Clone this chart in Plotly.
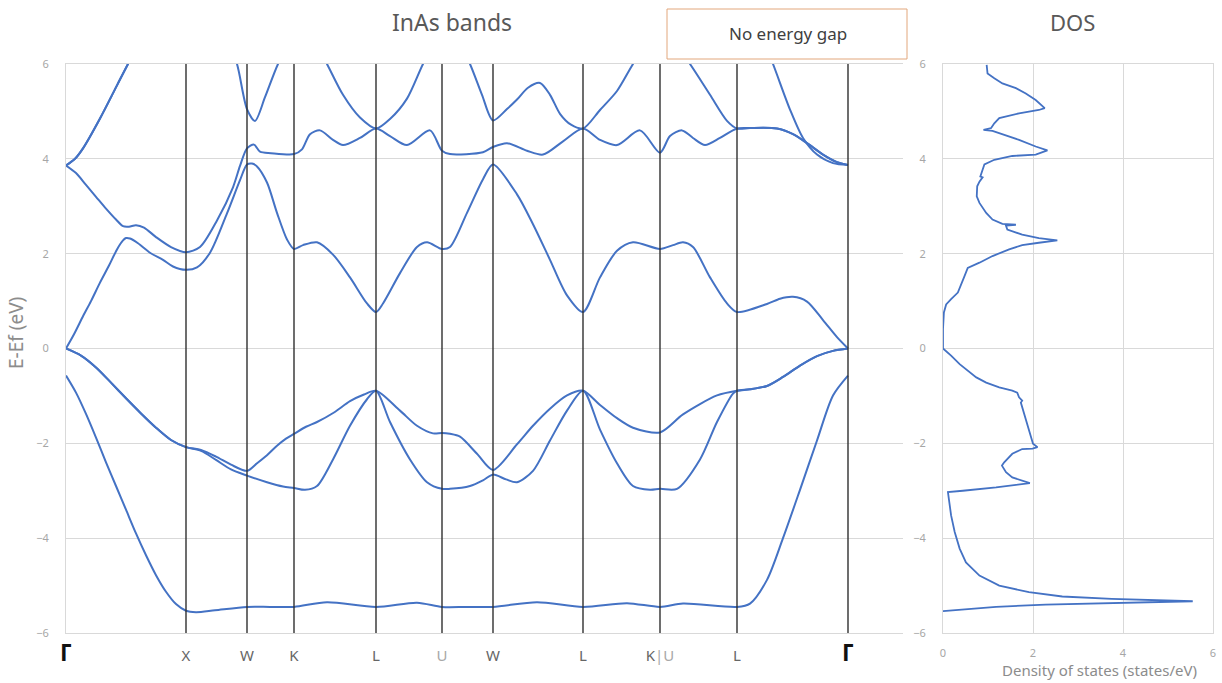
import plotly.graph_objects as go

# ---- high-symmetry path (k-path distance, arbitrary units) ----
sym_k = [0, 120, 181, 228, 310, 376, 427, 517, 594, 671, 782]
sym_labels = ["Γ", "X", "W", "K", "L", "U", "W", "L", "K|U", "L", "Γ"]

energy_ticks = [-6, -4, -2, 0, 2, 4, 6]
dos_ticks = [0, 2, 4, 6]

# ---- band energies E - Ef (eV) along the path ----
band1_k = [0, 10, 20, 30, 40, 50, 60, 70, 80, 90, 100, 110, 120, 130, 149, 181, 204, 228, 261, 310,
           351, 376, 400, 427, 471, 517, 561, 594, 617, 671, 684, 701, 717, 734, 751, 767, 782]
band1_e = [-0.57, -0.93, -1.38, -1.88, -2.4, -2.9, -3.4, -3.9, -4.36, -4.78, -5.13, -5.39, -5.53,
           -5.56, -5.52, -5.45, -5.45, -5.45, -5.35, -5.45, -5.36, -5.45, -5.45, -5.45, -5.35,
           -5.45, -5.37, -5.45, -5.38, -5.45, -5.38, -4.88, -4.0, -2.98, -1.94, -0.99, -0.57]

band2_k = [0, 15, 30, 45, 60, 75, 90, 105, 120, 135, 150, 165, 181, 201, 217, 228, 239, 251, 267,
           284, 301, 310, 324, 344, 361, 376, 384, 404, 417, 427, 440, 451, 467, 484, 501, 517, 534,
           551, 567, 584, 594, 611, 634, 651, 667, 671, 684, 701, 717, 734, 751, 767, 782]
band2_e = [0, -0.15, -0.4, -0.72, -1.05, -1.37, -1.67, -1.93, -2.08, -2.16, -2.35, -2.55, -2.68,
           -2.82, -2.91, -2.94, -2.98, -2.9, -2.34, -1.63, -1.07, -0.89, -1.55, -2.34, -2.82, -2.96,
           -2.96, -2.9, -2.78, -2.66, -2.76, -2.82, -2.58, -1.94, -1.31, -0.89, -1.71, -2.42, -2.9,
           -2.98, -2.96, -2.96, -2.34, -1.55, -0.95, -0.89, -0.86, -0.79, -0.6, -0.36, -0.16, -0.05, 0]

band3_k = [0, 15, 30, 45, 60, 75, 90, 105, 120, 135, 150, 165, 181, 191, 201, 211, 220, 228, 240,
           251, 268, 284, 298, 310, 334, 351, 367, 376, 384, 394, 411, 427, 451, 467, 484, 501, 517,
           534, 551, 567, 594, 617, 651, 671, 684, 701, 717, 734, 751, 767, 782]
band3_e = [0, -0.15, -0.4, -0.72, -1.05, -1.37, -1.67, -1.93, -2.08, -2.14, -2.28, -2.45, -2.58,
           -2.42, -2.25, -2.05, -1.9, -1.8, -1.65, -1.55, -1.35, -1.11, -0.97, -0.89, -1.31, -1.63,
           -1.79, -1.78, -1.8, -1.86, -2.22, -2.56, -2.02, -1.63, -1.27, -0.99, -0.89, -1.19, -1.47,
           -1.67, -1.77, -1.39, -0.99, -0.89, -0.86, -0.79, -0.6, -0.36, -0.16, -0.05, 0]

band4_k = [0, 8, 17, 25, 34, 43, 51, 57, 60, 64, 72, 84, 97, 107, 120, 131, 144, 161, 174, 181,
           186, 191, 201, 211, 221, 228, 237, 251, 267, 284, 301, 310, 317, 334, 351, 361, 376, 384,
           401, 417, 427, 451, 467, 484, 501, 517, 534, 551, 567, 594, 607, 617, 627, 644, 661, 671,
           701, 714, 727, 741, 757, 771, 782]
band4_e = [0, 0.3, 0.68, 1.0, 1.39, 1.75, 2.09, 2.28, 2.33, 2.32, 2.22, 2.02, 1.87, 1.73, 1.66,
           1.71, 2.02, 2.85, 3.55, 3.88, 3.9, 3.84, 3.5, 2.86, 2.3, 2.1, 2.18, 2.24, 1.98, 1.5, 0.95,
           0.77, 0.95, 1.59, 2.14, 2.24, 2.1, 2.14, 2.86, 3.57, 3.88, 3.25, 2.62, 1.87, 1.12, 0.77,
           1.5, 2.06, 2.24, 2.1, 2.18, 2.24, 2.14, 1.5, 0.95, 0.77, 0.94, 1.05, 1.09, 0.99, 0.6,
           0.24, 0]

band5_k = [0, 10, 20, 30, 40, 50, 57, 63, 70, 78, 90, 105, 120, 134, 151, 167, 174, 181, 188,
           194, 205, 228, 236, 244, 254, 267, 277, 294, 310, 324, 341, 364, 376, 384, 417, 427, 441,
           461, 477, 497, 517, 534, 551, 574, 594, 604, 616, 627, 639, 654, 671, 684, 711, 727, 741,
           757, 771, 782]
band5_e = [3.86, 3.7, 3.45, 3.2, 2.95, 2.72, 2.58, 2.57, 2.6, 2.55, 2.35, 2.14, 2.03, 2.14,
           2.7, 3.4, 3.85, 4.22, 4.3, 4.15, 4.12, 4.1, 4.2, 4.52, 4.6, 4.4, 4.29, 4.44, 4.64, 4.48,
           4.29, 4.6, 4.17, 4.1, 4.14, 4.25, 4.33, 4.17, 4.09, 4.37, 4.64, 4.4, 4.29, 4.6, 4.13, 4.48,
           4.6, 4.44, 4.29, 4.44, 4.64, 4.65, 4.64, 4.52, 4.33, 4.09, 3.93, 3.87]

band6_k = [0, 9, 17, 34, 51, 62, 80, 100, 120, 140, 160, 171, 181, 189, 199, 212, 225, 236, 248,
           261, 277, 294, 310, 324, 341, 357, 370, 380, 392, 404, 416, 427, 441, 451, 462, 474, 484,
           494, 505, 517, 534, 551, 567, 580, 594, 610, 624, 644, 661, 671, 684, 711, 727, 741, 757,
           771, 782]
band6_e = [3.86, 4.0, 4.22, 4.85, 5.55, 6.0, 6.7, 7.2, 7.4, 7.2, 6.6, 6.0, 5.05, 4.8, 5.3, 6.0,
           6.5, 6.6, 6.5, 6.0, 5.35, 4.87, 4.64, 4.84, 5.27, 6.0, 6.5, 6.6, 6.5, 6.0, 5.35, 4.81,
           5.05, 5.25, 5.5, 5.6, 5.35, 4.95, 4.72, 4.64, 5.03, 5.43, 6.0, 6.4, 6.5, 6.4, 6.0, 5.35,
           4.8, 4.64, 4.65, 4.64, 4.52, 4.33, 4.09, 3.93, 3.87]

band7_k = [0, 9, 17, 34, 51, 62, 80, None, 690, 707, 724, 737, 751, 767, 782]
band7_e = [3.86, 4.0, 4.22, 4.85, 5.55, 6.0, 6.7, None, 6.9, 6.0, 5.04, 4.44, 4.09, 3.91, 3.87]

# ---- density of states (states/eV) vs E - Ef (eV) ----
dos_e = [5.98, 5.80, 5.70, 5.59, 5.49, 5.38, 5.24, 5.14, 5.07, 5.03, 4.96, 4.86, 4.75, 4.65, 4.61,
         4.59, 4.40, 4.26, 4.18, 4.09, 4.06, 3.98, 3.88, 3.77, 3.63, 3.61, 3.52, 3.42, 3.21, 3.07,
         2.86, 2.72, 2.63, 2.61, 2.59, 2.51, 2.40, 2.33, 2.28, 2.23, 2.18, 2.09, 1.95, 1.81, 1.70,
         1.53, 1.32, 1.18, 1.04, 0.93, 0.76, 0.41, 0.0,
         -0.15, -0.33, -0.47, -0.61, -0.72, -0.82, -0.89, -0.93, -1.03, -1.10, -1.14, -1.49, -1.81,
         -2.01, -2.08, -2.11, -2.12, -2.22, -2.40, -2.47, -2.61, -2.72, -2.84, -2.93, -3.00, -3.03,
         -3.17, -3.52, -3.87, -4.22, -4.51, -4.79, -5.00, -5.14, -5.23, -5.28, -5.33, -5.36, -5.40,
         -5.45, -5.54]
dos_val = [0.97, 0.99, 1.14, 1.32, 1.62, 1.84, 2.06, 2.19, 2.26, 2.13, 1.69, 1.25, 1.14, 1.07, 0.90,
           1.10, 1.69, 2.06, 2.32, 2.06, 1.54, 1.14, 0.92, 0.88, 0.83, 0.88, 0.81, 0.76, 0.75, 0.81,
           0.96, 1.10, 1.32, 1.62, 1.40, 1.43, 1.76, 2.13, 2.54, 2.13, 1.76, 1.47, 1.10, 0.81, 0.55,
           0.48, 0.40, 0.33, 0.18, 0.07, 0.02, 0.0, 0.0,
           0.18, 0.37, 0.55, 0.74, 0.96, 1.25, 1.54, 1.65, 1.69, 1.76, 1.73, 1.84, 1.95,
           2.00, 2.10, 1.99, 1.76, 1.54, 1.36, 1.31, 1.40, 1.54, 1.93, 1.18, 0.44, 0.11,
           0.13, 0.18, 0.26, 0.37, 0.51, 0.81, 1.25, 1.91, 2.65, 3.75, 5.55, 3.75, 2.28,
           1.18, 0.0]

FONT = "Noto Sans"
BLUE = "#4472C4"
GRID = "#d9d9d9"
W, H = 1222, 683


def px_x(v):
    return v / W


def px_y(v):
    return 1 - v / H


band_dom_x = [px_x(66), px_x(903)]
dos_dom_x = [px_x(943), px_x(1213)]
dom_y = [px_y(633), px_y(64)]

fig = go.Figure()

bands = [(band1_k, band1_e), (band2_k, band2_e), (band3_k, band3_e), (band4_k, band4_e),
         (band5_k, band5_e), (band6_k, band6_e), (band7_k, band7_e)]
for bk, be in bands:
    fig.add_trace(go.Scatter(
        x=bk, y=be, mode="lines", xaxis="x", yaxis="y",
        line=dict(color=BLUE, width=2, shape="spline", smoothing=0.8),
        showlegend=False, hoverinfo="skip"))

fig.add_trace(go.Scatter(
    x=dos_val, y=dos_e, mode="lines", xaxis="x2", yaxis="y2",
    line=dict(color=BLUE, width=1.8), showlegend=False, hoverinfo="skip"))

# high-symmetry point markers along the path
for kv in sym_k[1:]:
    fig.add_shape(type="line", xref="x", yref="y", x0=kv, x1=kv, y0=-6, y1=6,
                  line=dict(color="#303030", width=1.4), layer="above")


def style_label(lbl):
    if lbl == "Γ":
        return "<span style='font-size:23px;color:#111111'><b>Γ</b></span>"
    if lbl == "U":
        return "<span style='color:#a8a8a8'>U</span>"
    if lbl == "K|U":
        return "K<span style='color:#a8a8a8'>|U</span>"
    return lbl


tick_style = dict(size=11, color="#a6a6a6", family=FONT)

fig.update_layout(
    width=W, height=H, margin=dict(l=0, r=0, t=0, b=0, autoexpand=False),
    paper_bgcolor="white", plot_bgcolor="white",
    font=dict(family=FONT),
    xaxis=dict(domain=band_dom_x, range=[0, 837], anchor="y", automargin=False,
               tickvals=sym_k, ticktext=[style_label(s) for s in sym_labels],
               tickfont=dict(size=15, color="#666666", family=FONT),
               showgrid=False, zeroline=False, showline=True, mirror=True,
               linecolor=GRID, linewidth=1, ticks="", ticklabelstandoff=9),
    yaxis=dict(domain=dom_y, range=[-6, 6], anchor="x", tickvals=energy_ticks, automargin=False,
               tickfont=tick_style, showgrid=True, gridcolor=GRID, zeroline=False,
               showline=True, linecolor=GRID, ticks="", ticklabelstandoff=14),
    xaxis2=dict(domain=dos_dom_x, range=[0, 6], anchor="y2", tickvals=dos_ticks, automargin=False,
                tickfont=tick_style, showgrid=True, gridcolor=GRID, zeroline=False,
                showline=True, mirror=True, linecolor=GRID, ticks="", ticklabelstandoff=10),
    yaxis2=dict(domain=dom_y, range=[-6, 6], anchor="x2", tickvals=energy_ticks, automargin=False,
                tickfont=tick_style, showgrid=True, gridcolor=GRID, zeroline=False,
                showline=True, mirror=True, linecolor=GRID, ticks="", ticklabelstandoff=14),
)

fig.add_annotation(text="InAs bands", x=px_x(452), y=px_y(22), xref="paper", yref="paper",
                   showarrow=False, font=dict(family=FONT, size=23, color="#595959"),
                   xanchor="center", yanchor="middle")
fig.add_annotation(text="DOS", x=px_x(1072), y=px_y(22), xref="paper", yref="paper",
                   showarrow=False, font=dict(family=FONT, size=22, color="#595959"),
                   xanchor="center", yanchor="middle")
fig.add_annotation(text="E-Ef (eV)", x=px_x(16), y=px_y(333), xref="paper", yref="paper",
                   showarrow=False, textangle=-90,
                   font=dict(family=FONT, size=19, color="#8c8c8c"),
                   xanchor="center", yanchor="middle")
fig.add_annotation(text="Density of states (states/eV)", x=px_x(1099), y=px_y(670),
                   xref="paper", yref="paper", showarrow=False,
                   font=dict(family=FONT, size=15, color="#8c8c8c"),
                   xanchor="center", yanchor="middle")

# note box
fig.add_shape(type="rect", xref="paper", yref="paper",
              x0=px_x(667), x1=px_x(907), y0=px_y(59), y1=px_y(9),
              line=dict(color="#E2A77C", width=1), fillcolor="white")
fig.add_annotation(text="No energy gap", x=px_x(788), y=px_y(33), xref="paper", yref="paper",
                   showarrow=False, font=dict(family=FONT, size=17, color="#404040"),
                   xanchor="center", yanchor="middle")

fig.write_html("out.html")
